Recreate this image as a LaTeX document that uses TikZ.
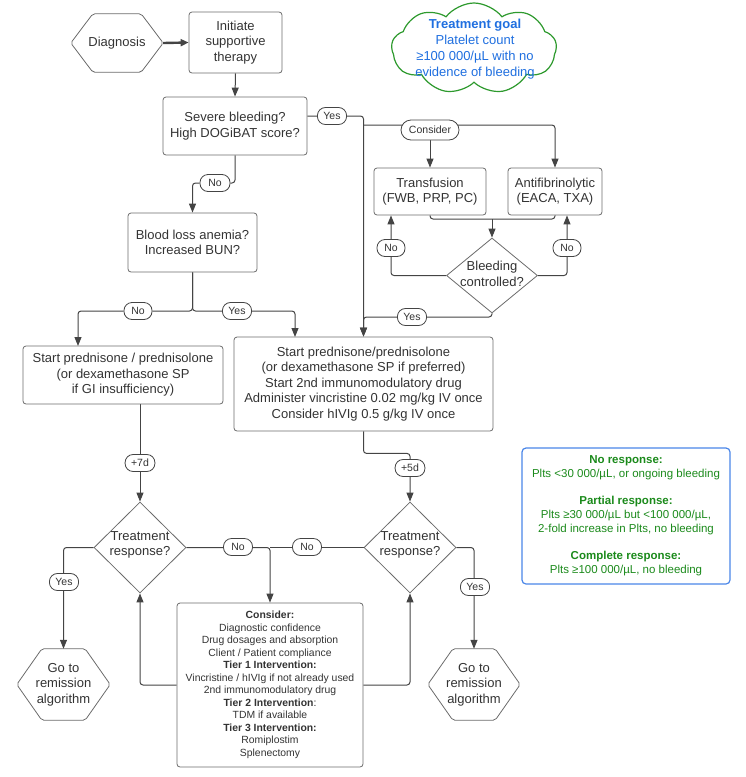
\documentclass[tikz,border=0pt]{standalone}
\usepackage{fontspec}
\setmainfont{Liberation Sans}
\usetikzlibrary{arrows.meta,shapes.geometric,shapes.symbols,backgrounds}
\definecolor{boxc}{HTML}{6B6B6B}
\definecolor{linec}{HTML}{444444}
\definecolor{txtc}{HTML}{333333}
\definecolor{cloudg}{HTML}{2E9A2E}
\definecolor{goalb}{HTML}{1F6FE0}
\definecolor{legb}{HTML}{4A86E8}
\definecolor{legg}{HTML}{1B8A1B}
\newcommand\drawhex[2]{\draw[draw=boxc, line width=0.8pt, rounded corners=2pt] (#1.west) -- ([xshift=#2]#1.north west) -- ([xshift=-#2]#1.north east) -- (#1.east) -- ([xshift=-#2]#1.south east) -- ([xshift=#2]#1.south west) -- cycle;}
\begin{document}
\begin{tikzpicture}[x=1pt,y=-1pt,
 box/.style={draw=boxc, line width=0.8pt, rounded corners=3pt, align=center, text=txtc, inner sep=0pt, font=\fontsize{13}{15.5}\selectfont},
 pill/.style={draw=linec, line width=0.8pt, fill=white, rounded corners=8pt, minimum height=17pt, inner xsep=6pt, inner ysep=0pt, text=txtc, font=\fontsize{10.5}{12}\selectfont},
 dia/.style={diamond, draw=boxc, line width=0.8pt, inner sep=0pt, fill=white},
 dtext/.style={align=center, text=txtc, font=\fontsize{13}{15.5}\selectfont, inner sep=0pt},
 con/.style={draw=linec, line width=1pt, rounded corners=3pt},
 arr/.style={con, -{Triangle[length=9pt,width=7pt]}},
]
\useasboundingbox (0,0) rectangle (745,777);
% top
\node[dtext, minimum width=92pt, minimum height=58pt] (diag) at (117,43) {Diagnosis};
\drawhex{diag}{22pt}
\node[box, minimum width=93pt, minimum height=61pt] (init) at (235.5,42.5) {Initiate\\supportive\\therapy};
\node[box, minimum width=144pt, minimum height=58pt] (severe) at (235,126) {Severe bleeding?\\High DOGiBAT score?};
\node[pill] (yes1) at (332,116) {Yes};
% cloud
\node[cloud, cloud puffs=9, cloud puff arc=105, cloud ignores aspect, draw=cloudg, line width=1.2pt, fill=white, minimum width=165pt, minimum height=91pt, inner sep=0pt] (goal) at (474,48.5) {};
\node[align=center, text=goalb, inner sep=0pt, font=\fontsize{13}{16}\selectfont] (goalt) at (475,49) {\textbf{Treatment goal}\\Platelet count\\≥100 000/µL with no\\evidence of bleeding};
% bleeding branch
\node[pill, rounded corners=10pt, minimum height=20pt, inner xsep=8pt] (cons1) at (430,130) {Consider};
\node[box, minimum width=112pt, minimum height=47pt] (transf) at (430,191.5) {Transfusion\\(FWB, PRP, PC)};
\node[box, minimum width=94pt, minimum height=47pt] (antif) at (555,191.5) {Antifibrinolytic\\(EACA, TXA)};
\node[dia, minimum width=91pt, minimum height=75pt] (bc) at (492,275.5) {};
\node[dtext] (bct) at (492,274) {Bleeding\\controlled?};
\node[pill, minimum width=28pt] (no2) at (391,248) {No};
\node[pill, minimum width=28pt] (no3) at (567,248) {No};
\node[pill] (yes2) at (412,317) {Yes};
% no branch
\node[pill, minimum width=30pt] (no1) at (215,183) {No};
\node[box, minimum width=129pt, minimum height=59pt] (blood) at (192.5,242.5) {Blood loss anemia?\\Increased BUN?};
\node[pill, minimum width=28pt] (no4) at (138,311) {No};
\node[pill] (yes3) at (237,311) {Yes};
\node[box, minimum width=200pt, minimum height=58pt] (lbox) at (123,375) {Start prednisone / prednisolone\\(or dexamethasone SP\\if GI insufficiency)};
\node[box, minimum width=259pt, minimum height=94pt] (big) at (363.5,384) {Start prednisone/prednisolone\\(or dexamethasone SP if preferred)\\Start 2nd immunomodulatory drug\\Administer vincristine 0.02 mg/kg IV once\\Consider hIVIg 0.5 g/kg IV once};
\node[pill] (p7) at (140,463) {+7d};
\node[pill] (p5) at (410,468) {+5d};
% response diamonds
\node[dia, minimum width=92pt, minimum height=91pt] (d1) at (140,547.5) {};
\node[dtext] (d1t) at (140,545) {Treatment\\response?};
\node[dia, minimum width=92pt, minimum height=91pt] (d2) at (410,547.5) {};
\node[dtext] (d2t) at (410,545) {Treatment\\response?};
\node[pill] (yes4) at (64,582) {Yes};
\node[pill] (yes5) at (475,587) {Yes};
\node[pill, minimum width=29pt] (no5) at (238,547) {No};
\node[pill, minimum width=29pt] (no6) at (307,547) {No};
\node[dtext, minimum width=93pt, minimum height=71pt] (hex1) at (63.5,684.5) {Go to\\remission\\algorithm};
\drawhex{hex1}{25pt}
\node[dtext, minimum width=92pt, minimum height=71pt] (hex2) at (474,684.5) {Go to\\remission\\algorithm};
\drawhex{hex2}{25pt}
\node[box, minimum width=186pt, minimum height=164pt, font=\fontsize{10.4}{12.5}\selectfont] (cons) at (270,685) {\textbf{Consider:}\\Diagnostic confidence\\Drug dosages and absorption\\Client / Patient compliance\\\textbf{Tier 1 Intervention:}\\Vincristine / hIVIg if not already used\\2nd immunomodulatory drug\\\textbf{Tier 2 Intervention}:\\TDM if available\\\textbf{Tier 3 Intervention:}\\Romiplostim\\Splenectomy};
% legend
\node[draw=legb, line width=1.2pt, rounded corners=4pt, minimum width=208pt, minimum height=136pt, align=center, text=legg, inner sep=0pt, font=\fontsize{11.5}{14}\selectfont] (leg) at (626,516) {\textbf{No response:}\\Plts <30 000/µL, or ongoing bleeding\\[13pt]\textbf{Partial response:}\\Plts ≥30 000/µL but <100 000/µL,\\2-fold increase in Plts, no bleeding\\[13pt]\textbf{Complete response:}\\Plts ≥100 000/µL, no bleeding};
% connectors
\coordinate (jc) at (363.5,125);
\coordinate (jm) at (492,219);
\coordinate (lt) at (78,346);
\coordinate (rt) at (295,337);
\begin{scope}[on background layer]
\draw[con, line width=2.4pt, -{Triangle[length=8pt,width=7pt]}] (diag.east) -- (init.west);
\draw[arr] (init.south) -- (severe.north);
\draw[arr] (severe.east |- yes1) -- (yes1) -| (big.north);
\draw[arr] (jc) -| (antif.north);
\draw[arr] (cons1.south) -- (transf.north);
\draw[con] (transf.south) |- (jm) -| (antif.south);
\draw[arr] (jm) -- (bc.north);
\draw[arr] (bc.west) -| (transf.south -| no2);
\draw[arr] (bc.east) -| (antif.south -| no3);
\draw[arr] (bc.south) |- (yes2) -| (big.north);
\draw[arr] (severe.south) |- (no1) -| (blood.north);
\draw[arr] (blood.south) |- (no4) -| (lt);
\draw[arr] (blood.south) |- (yes3) -| (rt);
\draw[arr] (lbox.south -| d1.north) -- (d1.north);
\draw[arr] (big.south) -- ++(0,22) -| (d2.north);
\draw[arr] (d1.west) -| (hex1.north);
\draw[arr] (d2.east) -| (hex2.north);
\draw[arr] (d1.east) -| (cons.north);
\draw[con] (d2.west) -- (cons.north |- d2.west);
\draw[arr] (cons.west) -| (d1.south);
\draw[arr] (cons.east) -| (d2.south);
\end{scope}
\end{tikzpicture}
\end{document}
